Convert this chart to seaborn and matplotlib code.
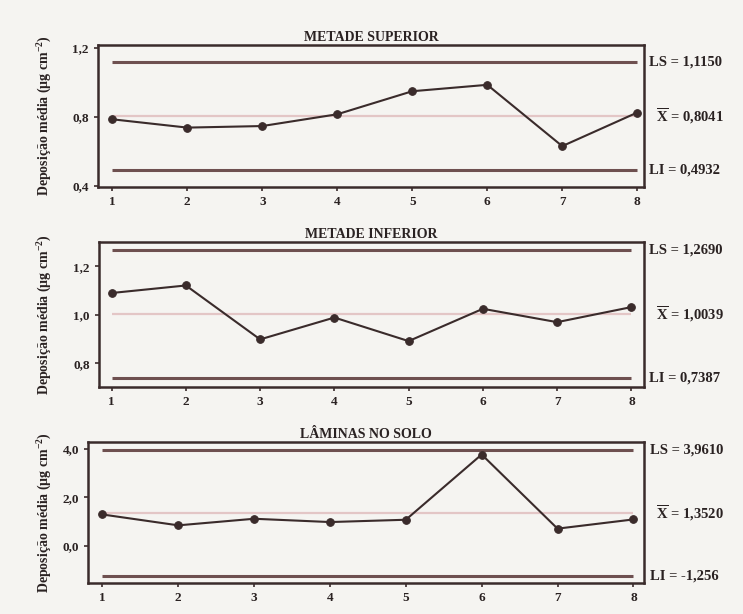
import matplotlib
matplotlib.use("Agg")
import matplotlib.pyplot as plt
import seaborn as sns
import pandas as pd
from matplotlib.ticker import FuncFormatter

amostras = [1, 2, 3, 4, 5, 6, 7, 8]
titulos = ["METADE SUPERIOR", "METADE INFERIOR", "LÂMINAS NO SOLO"]
sup = [0.786, 0.738, 0.747, 0.815, 0.948, 0.985, 0.631, 0.825]
inf = [1.090, 1.121, 0.899, 0.989, 0.892, 1.025, 0.970, 1.032]
solo = [1.293, 0.844, 1.116, 0.980, 1.075, 3.769, 0.708, 1.088]
ls_vals = [1.1150, 1.2690, 3.9610]
media_vals = [0.8041, 1.0039, 1.3520]
li_vals = [0.4932, 0.7387, -1.256]
ls_txt = ["LS = 1,1150", "LS = 1,2690", "LS = 3,9610"]
media_txt = ["0,8041", "1,0039", "1,3520"]
li_txt = ["LI = 0,4932", "LI = 0,7387", "LI = -1,256"]
yticks = [[0.4, 0.8, 1.2], [0.8, 1.0, 1.2], [0.0, 2.0, 4.0]]
ylims = [(0.395, 1.215), (0.703, 1.30), (-1.537, 4.286)]
xlims = [(0.81, 8.09), (0.83, 8.17), (0.81, 8.14)]

sns.set_theme(style="ticks")
plt.rcParams["font.family"] = ["Liberation Serif", "DejaVu Serif"]
plt.rcParams["mathtext.fontset"] = "custom"
plt.rcParams["mathtext.rm"] = "Liberation Serif:bold"
plt.rcParams["mathtext.it"] = "Liberation Serif:bold"
plt.rcParams["mathtext.bf"] = "Liberation Serif:bold"

bg = "#f5f4f1"
dark = "#3a2b2b"
limc = "#6e5050"
meanc = "#e3c6c6"
txtc = "#2a2222"

fig = plt.figure(figsize=(7.43, 6.14), dpi=100, facecolor=bg)
positions = [
    [98/743, 1-187/614, 546/743, 142/614],
    [99/743, 1-387/614, 545/743, 145/614],
    [88/743, 1-583/614, 556/743, 141/614],
]
series = [sup, inf, solo]

for i in range(3):
    ax = fig.add_axes(positions[i])
    ax.set_facecolor(bg)
    df = pd.DataFrame({"Amostra": amostras, "Deposicao": series[i]})
    ax.hlines([ls_vals[i], li_vals[i]], amostras[0], amostras[-1], color=limc, lw=2.2)
    ax.hlines(media_vals[i], amostras[0], amostras[-1], color=meanc, lw=1.6)
    sns.lineplot(data=df, x="Amostra", y="Deposicao", ax=ax, color=dark,
                 marker="o", markersize=5.5, markeredgecolor=dark, lw=1.5)
    ax.set_xlim(*xlims[i])
    ax.set_ylim(*ylims[i])
    ax.set_xticks(amostras)
    ax.set_yticks(yticks[i])
    ax.yaxis.set_major_formatter(FuncFormatter(lambda v, p: f"{v:.1f}".replace(".", ",")))
    ax.set_xlabel("")
    ax.set_ylabel("Deposição média (μg cm$^{-2}$)", fontsize=10, color=txtc,
                  fontweight="bold")
    ax.yaxis.set_label_coords(54/743, positions[i][1] + positions[i][3]/2,
                              transform=fig.transFigure)
    ax.set_title(titulos[i], fontsize=10, color=txtc, pad=3, fontweight="bold")
    for s in ax.spines.values():
        s.set_visible(True)
        s.set_color(dark)
        s.set_linewidth(1.8)
    ax.tick_params(axis="both", labelsize=9.5, colors=dark, labelcolor=txtc,
                   length=3, width=1.2, direction="out")
    for lab in ax.get_xticklabels() + ax.get_yticklabels():
        lab.set_fontweight("bold")
    tr = ax.get_yaxis_transform()
    ax.text(1.01, ls_vals[i], ls_txt[i], transform=tr, va="center", ha="left",
            fontsize=10.5, color=txtc, fontweight="bold")
    ax.text(1.022, media_vals[i], r"$\overline{\mathrm{X}}$" + " = " + media_txt[i],
            transform=tr, va="center", ha="left", fontsize=10.5, color=txtc,
            fontweight="bold")
    ax.text(1.01, li_vals[i], li_txt[i], transform=tr, va="center", ha="left",
            fontsize=10.5, color=txtc, fontweight="bold")

fig.savefig("out.png", dpi=100, facecolor=bg)
